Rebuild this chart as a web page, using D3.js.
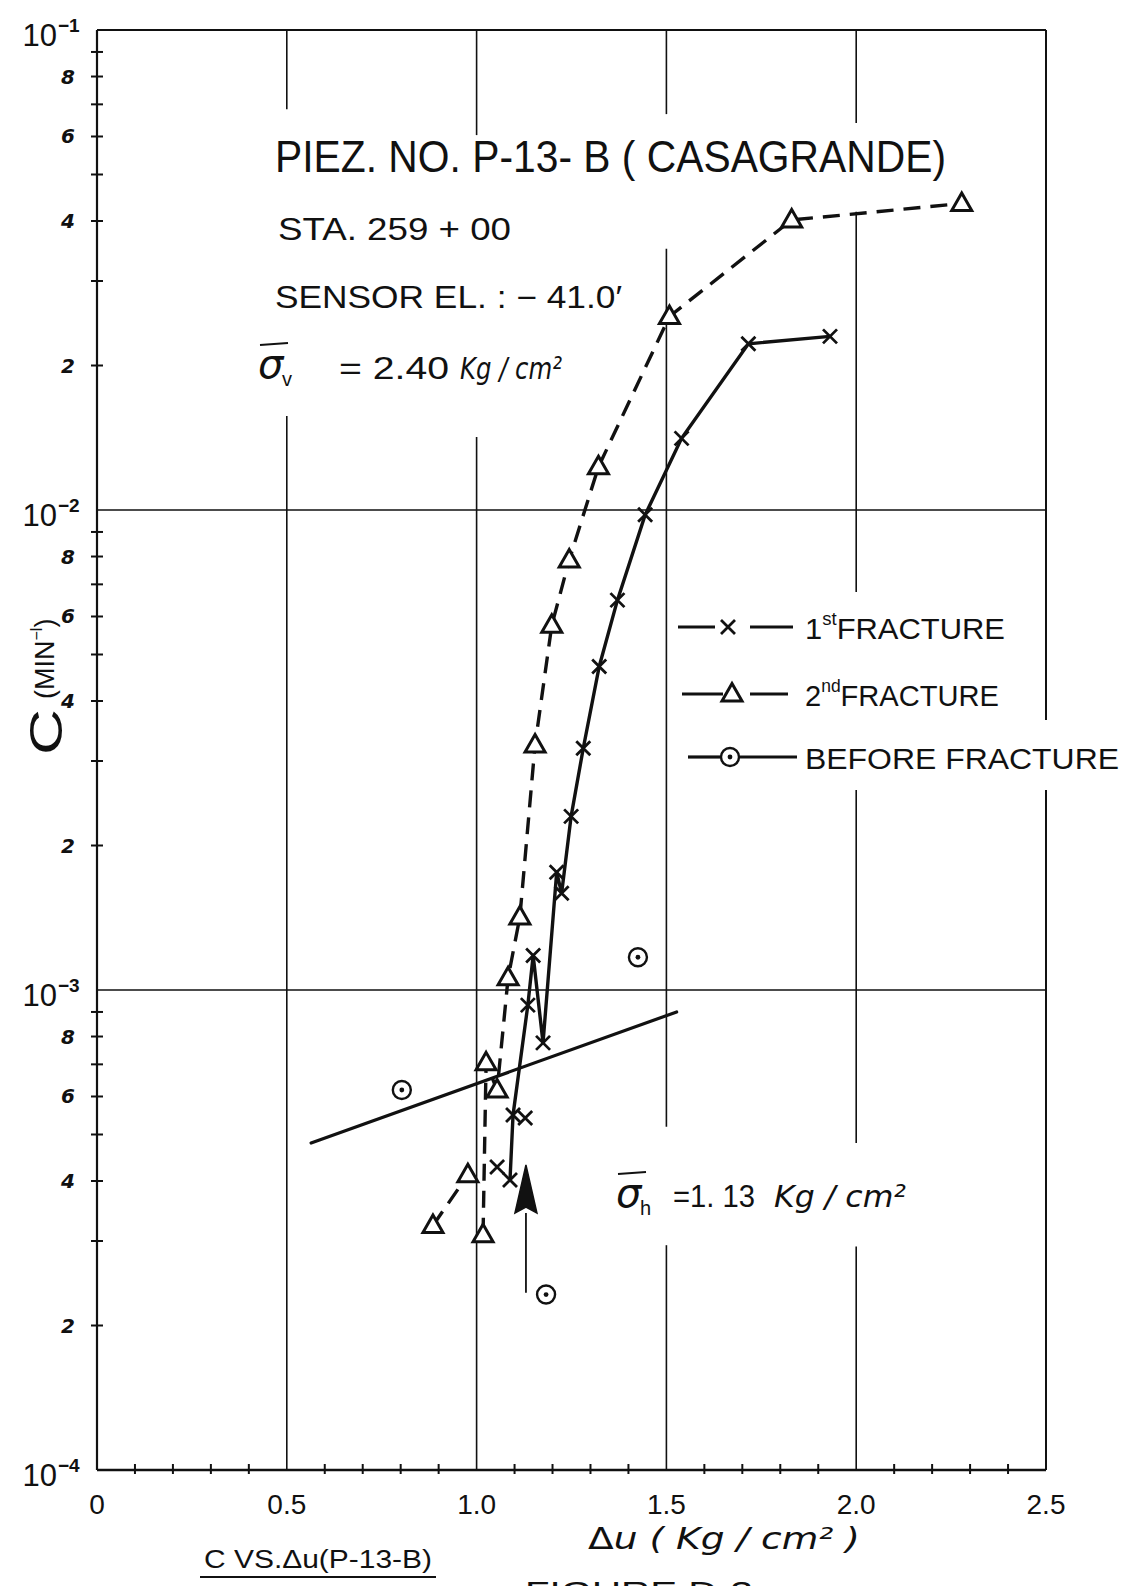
<!DOCTYPE html>
<html><head><meta charset="utf-8">
<script src="https://cdn.jsdelivr.net/npm/d3@7"></script>
<style>body{margin:0;background:#fff} svg{display:block;background:#fff}</style>
</head><body>
<svg id="chart" width="1132" height="1586"></svg>
<script>
// ---------------- DATA ----------------
const xTickValues = [0, 0.5, 1.0, 1.5, 2.0, 2.5];
const xTickLabels = ["0", "0.5", "1.0", "1.5", "2.0", "2.5"];
const yDecades = [1e-1, 1e-2, 1e-3, 1e-4];
const yDecadeExp = ["-1", "-2", "-3", "-4"];
const yMinorMult = [2, 3, 4, 5, 6, 7, 8, 9];
const yMinorLabelled = [2, 4, 6, 8];

// 1st fracture (null = pen lifted)
const frac1U = [1.054, null, 1.128, null, 1.088, 1.096, 1.135, 1.149, 1.175, 1.211, 1.224, 1.249, 1.281, 1.323, 1.371, 1.444, 1.540, 1.716, 1.931];
const frac1C = [4.28e-4, null, 5.41e-4, null, 4.02e-4, 5.49e-4, 9.3e-4, 1.18e-3, 7.76e-4, 1.76e-3, 1.59e-3, 2.30e-3, 3.19e-3, 4.72e-3, 6.49e-3, 9.77e-3, 1.41e-2, 2.22e-2, 2.30e-2];

// 2nd fracture
const frac2U = [0.885, 0.977, null, 1.017, 1.025, 1.054, 1.083, 1.114, 1.154, 1.198, 1.244, 1.321, 1.508, 1.830, 2.278];
const frac2C = [3.23e-4, 4.12e-4, null, 3.09e-4, 7.05e-4, 6.19e-4, 1.06e-3, 1.42e-3, 3.24e-3, 5.75e-3, 7.87e-3, 1.23e-2, 2.53e-2, 4.02e-2, 4.35e-2];

// before fracture
const beforeU = [0.803, 1.425, 1.183];
const beforeC = [6.19e-4, 1.17e-3, 2.32e-4];

// straight line through before-fracture data
const fitU = [0.564, 1.527];
const fitC = [4.8e-4, 9.0e-4];

// arrow (Δu, tail C, head base C, tip C)
const arrowU = [1.130];
const arrowTailC = [2.34e-4];
const arrowBaseC = [3.43e-4];
const arrowTipC = [4.32e-4];

// grid lines (Δu) and the C ranges where they are interrupted by lettering
const gridU = [0.5, 1.0, 1.5, 2.0, 2.5];
const gridGaps = [
  [[0.0684, 0.0157]],
  [[0.0604, 0.01419]],
  [[0.0668, 0.0350], [5.19e-4, 2.94e-4]],
  [[0.064, 0.0418], [6.75e-3, 2.61e-3], [4.8e-4, 2.92e-4]],
  [[3.65e-3, 2.61e-3]]
];
const hGridC = [1e-2, 1e-3];

// ---------------- DRAW ----------------
const svg = d3.select("#chart");
const x = d3.scaleLinear().domain([0, 2.5]).range([97, 1046]);
const y = d3.scaleLog().domain([1e-4, 1e-1]).range([1470, 30]);
const FONT = "'Liberation Sans', Arial, sans-serif";
const HAND = "'DejaVu Sans', sans-serif";
const INK = "#111";

const g = svg.append("g");

// vertical grid lines with gaps
gridU.forEach((u, i) => {
  let segs = [];
  let top = 1e-1;
  gridGaps[i].forEach(([a, b]) => { segs.push([top, a]); top = b; });
  segs.push([top, 1e-4]);
  segs.forEach(([c1, c2]) => {
    g.append("line").attr("x1", x(u)).attr("x2", x(u)).attr("y1", y(c1)).attr("y2", y(c2))
      .attr("stroke", INK).attr("stroke-width", u === 2.5 ? 2 : 1.6);
  });
});
// horizontal grid lines
hGridC.forEach(c => {
  g.append("line").attr("x1", x(0)).attr("x2", x(2.5)).attr("y1", y(c)).attr("y2", y(c))
    .attr("stroke", INK).attr("stroke-width", 1.6);
});
// frame: left, bottom, top
g.append("line").attr("x1", x(0)).attr("x2", x(0)).attr("y1", y(1e-1)).attr("y2", y(1e-4)).attr("stroke", INK).attr("stroke-width", 2.2);
g.append("line").attr("x1", x(0)).attr("x2", x(2.5)).attr("y1", y(1e-4)).attr("y2", y(1e-4)).attr("stroke", INK).attr("stroke-width", 2.4);
g.append("line").attr("x1", x(0)).attr("x2", x(2.5)).attr("y1", y(1e-1)).attr("y2", y(1e-1)).attr("stroke", INK).attr("stroke-width", 2);

// y minor ticks + labels
[1e-4, 1e-3, 1e-2].forEach(d => {
  yMinorMult.forEach(k => {
    const v = k * d;
    g.append("line").attr("x1", x(0) - 6).attr("x2", x(0) + 6).attr("y1", y(v)).attr("y2", y(v))
      .attr("stroke", INK).attr("stroke-width", 2);
    if (yMinorLabelled.includes(k)) {
      g.append("text").attr("x", x(0) - 22).attr("y", y(v) + 7).attr("text-anchor", "end")
        .attr("font-family", HAND).attr("font-style", "italic").attr("font-weight", "bold")
        .attr("font-size", 20).attr("fill", INK).text(k);
    }
  });
});
// y decade labels
yDecades.forEach((d, i) => {
  g.append("text").attr("x", x(0) - 40).attr("y", y(d) + 16).attr("text-anchor", "end")
    .attr("font-family", FONT).attr("font-size", 31).attr("fill", INK).text("10");
  g.append("text").attr("x", x(0) - 39).attr("y", y(d) + 2).attr("text-anchor", "start")
    .attr("font-family", FONT).attr("font-weight", "bold").attr("font-size", 19).attr("fill", INK).text(yDecadeExp[i].replace("-", "\u2212"));
});

// x minor ticks
d3.range(1, 25).filter(k => k % 5 !== 0).forEach(k => {
  const u = k / 10;
  g.append("line").attr("x1", x(u)).attr("x2", x(u)).attr("y1", y(1e-4) - 6).attr("y2", y(1e-4) + 4)
    .attr("stroke", INK).attr("stroke-width", 2);
});
// x tick labels
xTickValues.forEach((u, i) => {
  g.append("text").attr("x", x(u)).attr("y", 1514).attr("text-anchor", "middle")
    .attr("font-family", FONT).attr("font-size", 28).attr("fill", INK).text(xTickLabels[i]);
});

// ---------------- SERIES ----------------
const pts = (U, C) => U.map((u, i) => (u === null ? null : [x(u), y(C[i])]));
const lineGen = d3.line().defined(d => d !== null);

const p1 = pts(frac1U, frac1C);
const p2 = pts(frac2U, frac2C);
const pb = pts(beforeU, beforeC);
const pf = pts(fitU, fitC);

// fit line
g.append("path").attr("d", lineGen(pf)).attr("fill", "none").attr("stroke", INK).attr("stroke-width", 3.2).attr("stroke-linecap", "round");
// 2nd fracture dashed
g.append("path").attr("d", lineGen(p2)).attr("fill", "none").attr("stroke", INK).attr("stroke-width", 3.4)
  .attr("stroke-dasharray", "17,10");
// 1st fracture solid
g.append("path").attr("d", lineGen(p1)).attr("fill", "none").attr("stroke", INK).attr("stroke-width", 3.4);

// markers
const xMark = "M-7,-7L7,7M-7,7L7,-7";
const triMark = "M0,-10.5L10,7L-10,7Z";
function drawX(sel, p) {
  sel.append("path").attr("d", xMark).attr("transform", `translate(${p[0]},${p[1]})`)
    .attr("stroke", INK).attr("stroke-width", 2.8).attr("fill", "none");
}
function drawTri(sel, p) {
  sel.append("path").attr("d", triMark).attr("transform", `translate(${p[0]},${p[1]})`)
    .attr("stroke", INK).attr("stroke-width", 3).attr("fill", "#fff").attr("stroke-linejoin", "miter");
}
function drawCirc(sel, p) {
  sel.append("circle").attr("cx", p[0]).attr("cy", p[1]).attr("r", 9).attr("stroke", INK).attr("stroke-width", 2.4).attr("fill", "#fff");
  sel.append("circle").attr("cx", p[0]).attr("cy", p[1]).attr("r", 2.4).attr("fill", INK);
}
p2.filter(d => d).forEach(p => drawTri(g, p));
p1.filter(d => d).forEach(p => drawX(g, p));
pb.forEach(p => drawCirc(g, p));

// arrow
arrowU.forEach((u, i) => {
  g.append("line").attr("x1", x(u)).attr("x2", x(u)).attr("y1", y(arrowTailC[i])).attr("y2", y(arrowBaseC[i]))
    .attr("stroke", INK).attr("stroke-width", 1.8);
  const tip = [x(u), y(arrowTipC[i])], base = y(arrowBaseC[i]);
  g.append("path").attr("d", `M${tip[0]},${tip[1]}L${tip[0] + 11},${base}L${tip[0]},${base - 6}L${tip[0] - 11},${base}Z`)
    .attr("fill", INK).attr("stroke", INK).attr("stroke-width", 1.5);
});

// ---------------- TEXT ----------------
function txt(xp, yp, s, size, opts = {}) {
  const t = g.append("text").attr("x", xp).attr("y", yp).attr("font-family", opts.family || FONT)
    .attr("font-size", size).attr("fill", INK).text(s);
  if (opts.len) t.attr("textLength", opts.len).attr("lengthAdjust", "spacingAndGlyphs");
  if (opts.italic) t.attr("font-style", "italic");
  if (opts.anchor) t.attr("text-anchor", opts.anchor);
  return t;
}
txt(275, 172, "PIEZ. NO. P-13- B  ( CASAGRANDE)", 44, { len: 671 });
txt(278, 240, "STA.  259 + 00", 31, { len: 233 });
txt(275, 308, "SENSOR  EL. : \u2212 41.0\u2032", 31, { len: 347 });

// sigma with bar
function sigma(xp, yp, sub) {
  txt(xp, yp, "\u03c3", 40, { italic: true, family: HAND });
  g.append("line").attr("x1", xp + 2).attr("x2", xp + 30).attr("y1", yp - 33).attr("y2", yp - 35).attr("stroke", INK).attr("stroke-width", 2.2);
  txt(xp + 24, yp + 8, sub, 20, { family: FONT });
}
sigma(258, 378, "v");
txt(339, 379, "= 2.40", 31, { len: 110 });
txt(460, 379, "Kg / cm\u00b2", 31, { italic: true, family: HAND, len: 102 });

sigma(616, 1207, "h");
txt(673, 1207, "=1. 13", 31, { len: 82 });
txt(774, 1207, "Kg / cm\u00b2", 31, { italic: true, family: HAND, len: 132 });

// legend
const legRows = [
  { y: 627, l1: [678, 715], m: 728, l2: [750, 793], kind: "x", num: "1", sup: "st", rest: "FRACTURE", tx: 805, len: 200 },
  { y: 694, l1: [682, 723], m: 732, l2: [750, 788], kind: "tri", num: "2", sup: "nd", rest: "FRACTURE", tx: 805, len: 194 },
  { y: 757, l1: [688, 720], m: 730, l2: [740, 797], kind: "circ", num: "", sup: "", rest: "BEFORE  FRACTURE", tx: 805, len: 314 }
];
legRows.forEach(r => {
  [r.l1, r.l2].forEach(l => g.append("line").attr("x1", l[0]).attr("x2", l[1]).attr("y1", r.y).attr("y2", r.y).attr("stroke", INK).attr("stroke-width", 3.2));
  const p = [r.m, r.y];
  if (r.kind === "x") drawX(g, p); else if (r.kind === "tri") drawTri(g, p); else drawCirc(g, p);
  const t = g.append("text").attr("x", r.tx).attr("y", r.y + 12).attr("font-family", FONT).attr("font-size", 30).attr("fill", INK)
    .attr("textLength", r.len).attr("lengthAdjust", "spacingAndGlyphs");
  if (r.num) {
    t.append("tspan").text(r.num);
    t.append("tspan").attr("dy", -14).attr("font-size", 18).text(r.sup);
    t.append("tspan").attr("dy", 14).text(r.rest);
  } else t.text(r.rest);
});

// y axis title (rotated)
g.append("text").attr("transform", "translate(62,755) rotate(-90)").attr("font-family", FONT).attr("fill", INK)
  .attr("font-size", 46).attr("textLength", 46).attr("lengthAdjust", "spacingAndGlyphs").text("C");
const yt = g.append("text").attr("transform", "translate(54,699) rotate(-90)").attr("font-family", FONT).attr("fill", INK);
yt.append("tspan").attr("font-size", 27).text("(MIN");
yt.append("tspan").attr("font-size", 16).attr("dy", -12).text("\u2212l");
yt.append("tspan").attr("font-size", 27).attr("dy", 12).text(")");

// x axis title
const xt = g.append("text").attr("x", 588).attr("y", 1549).attr("font-family", HAND).attr("font-size", 30).attr("fill", INK)
  .attr("textLength", 272).attr("lengthAdjust", "spacingAndGlyphs");
xt.append("tspan").text("\u0394");
xt.append("tspan").attr("font-style", "italic").text("u  ( Kg / cm\u00b2 )");

// caption
txt(204, 1568, "C  VS.\u0394u(P-13-B)", 26, { len: 228 });
g.append("line").attr("x1", 200).attr("x2", 436).attr("y1", 1577).attr("y2", 1577).attr("stroke", INK).attr("stroke-width", 2.2);
txt(525, 1602, "FIGURE   D-3", 30, { len: 228 });
</script>
</body></html>
